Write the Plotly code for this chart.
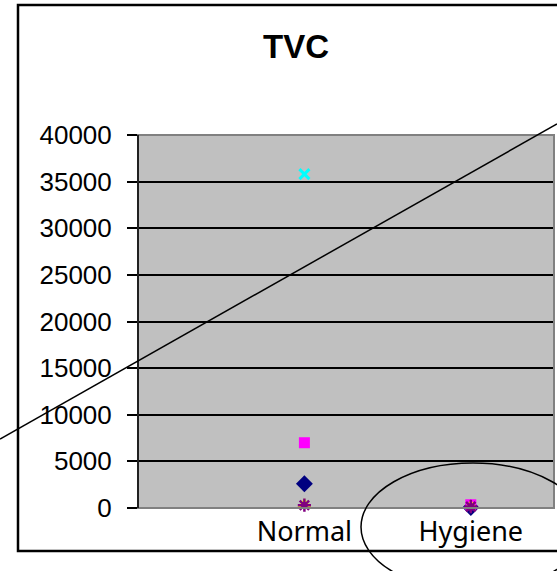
import plotly.graph_objects as go

categories = ["Normal", "Hygiene"]
series_names = ["Series1", "Series2", "Series3", "Series4", "Series5"]
s1_values = [2600, 50]
s2_values = [7000, 350]
s3_values = [400, 250]
s4_values = [35800, None]
s5_values = [300, 150]
y_ticks = [0, 5000, 10000, 15000, 20000, 25000, 30000, 35000, 40000]

W, H = 557, 571
L, R, T, B = 138, 3, 135, 63
pw, ph = W - L - R, H - T - B

def px(x):
    return (x - L) / pw

def py(y):
    return (H - B - y) / ph

styles = [
    dict(symbol="diamond", size=13, color="#000080"),
    dict(symbol="square", size=11, color="#FF00FF"),
    dict(symbol="triangle-up", size=12, color="#FFFF00"),
    dict(symbol="x-thin-open", size=10, color="#00FFFF", line=dict(color="#00FFFF", width=3)),
    dict(symbol="asterisk-open", size=11, color="#800080", line=dict(color="#800080", width=2.5)),
]
values = [s1_values, s2_values, s3_values, s4_values, s5_values]

fig = go.Figure()
for name, vals, st in zip(series_names, values, styles):
    fig.add_trace(go.Scatter(x=categories, y=vals, mode="markers", name=name,
                             marker=st, cliponaxis=False, showlegend=False))

fig.update_layout(
    width=W, height=H,
    margin=dict(l=L, r=R, t=T, b=B, pad=0),
    paper_bgcolor="white", plot_bgcolor="#C0C0C0",
    font=dict(family="Liberation Sans, Arial", color="black"),
    xaxis=dict(type="category", categoryorder="array", categoryarray=categories,
               range=[-1, 1.5], showgrid=False, zeroline=False, showline=False,
               ticks="", tickfont=dict(family="Noto Sans", size=27), ticklabelstandoff=5),
    yaxis=dict(range=[0, 40000], tickvals=y_ticks, tickformat="d",
               showgrid=True, gridcolor="black", gridwidth=2, zeroline=False,
               showline=False, ticks="outside", ticklen=10, tickwidth=1.5, tickcolor="black",
               tickfont=dict(family="Liberation Sans, Arial", size=26), ticklabelstandoff=10),
    annotations=[dict(text="<b>TVC</b>", xref="paper", yref="paper", x=px(296), y=py(46),
                      xanchor="center", yanchor="middle", showarrow=False,
                      font=dict(family="Liberation Sans, Arial", size=33, color="black"))],
    shapes=[
        # plot area border (gray)
        dict(type="rect", xref="paper", yref="paper", x0=0, x1=1, y0=0, y1=1,
             line=dict(color="#808080", width=2), layer="above"),
        # left axis line
        dict(type="line", xref="paper", yref="paper", x0=0, x1=0, y0=0, y1=1,
             line=dict(color="black", width=1.5), layer="above"),
        # outer chart border
        dict(type="rect", xref="paper", yref="paper", x0=px(18), x1=px(620), y0=py(551), y1=py(5),
             line=dict(color="black", width=2.5), layer="above"),
        # diagonal line
        dict(type="line", xref="paper", yref="paper", x0=px(0), y0=py(439), x1=px(557), y1=py(124),
             line=dict(color="black", width=1.5), layer="above"),
        # ellipse
        dict(type="circle", xref="paper", yref="paper", x0=px(361), x1=px(585), y0=py(591), y1=py(463),
             line=dict(color="black", width=1.5), layer="above"),
    ],
)

fig.write_html("out.html", config={"displayModeBar": False},
               post_script="document.body.style.margin='0';document.body.style.overflow='hidden';")
